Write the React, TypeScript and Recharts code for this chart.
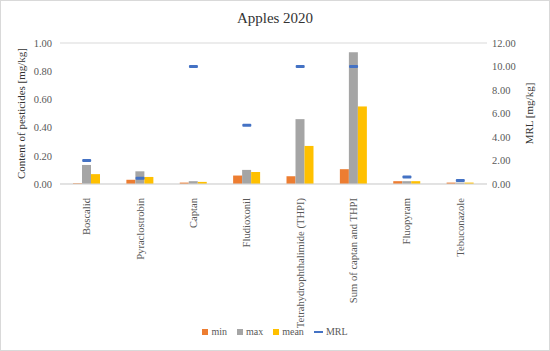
import { ComposedChart, Bar, Line, XAxis, YAxis, CartesianGrid } from "recharts";

const pesticides = [
  "Boscalid",
  "Pyraclostrobin",
  "Captan",
  "Fludioxonil",
  "Tetrahydrophthalimide (THPI)",
  "Sum of captan and THPI",
  "Fluopyram",
  "Tebuconazole",
];
const minValues = [0.005, 0.03, 0.01, 0.06, 0.055, 0.105, 0.02, 0.01];
const maxValues = [0.135, 0.09, 0.02, 0.1, 0.46, 0.935, 0.02, 0.01];
const meanValues = [0.07, 0.05, 0.015, 0.085, 0.27, 0.55, 0.02, 0.01];
const mrlValues = [2, 0.5, 10, 5, 10, 10, 0.6, 0.3];

const leftTicks = [0, 0.1, 0.2, 0.3, 0.4, 0.5, 0.6, 0.7, 0.8, 0.9, 1.0];
const rightTicks = [0, 2, 4, 6, 8, 10, 12];

const data = pesticides.map((name, i) => ({
  name,
  min: minValues[i],
  max: maxValues[i],
  mean: meanValues[i],
  MRL: mrlValues[i],
}));

const legendItems = [
  { label: "min", color: "#ED7D31", kind: "square" },
  { label: "max", color: "#A5A5A5", kind: "square" },
  { label: "mean", color: "#FFC000", kind: "square" },
  { label: "MRL", color: "#4472C4", kind: "line" },
];

const font = "'Liberation Serif', 'DejaVu Serif', serif";
const textColor = "#595959";

function CategoryTick(props: any) {
  const { x, y, payload } = props;
  return (
    <text
      x={x}
      y={y + 6}
      transform={`rotate(-90, ${x}, ${y + 6})`}
      textAnchor="end"
      dominantBaseline="central"
      fontSize={10.6}
      fontFamily={font}
      fill={textColor}
    >
      {payload.value}
    </text>
  );
}

function MrlDash(props: any) {
  const { cx, cy } = props;
  if (cx == null || cy == null) return null;
  return <rect x={cx - 4.5} y={cy - 1.5} width={9} height={3} rx={1} fill="#4472C4" />;
}

export default function App() {
  return (
    <div
      style={{
        position: "absolute",
        left: 0,
        top: 0,
        width: 548,
        height: 349,
        border: "1px solid #d9d9d9",
        background: "#fff",
        fontFamily: font,
      }}
    >
      <div
        style={{
          position: "absolute",
          top: 9,
          width: "100%",
          textAlign: "center",
          fontSize: 15,
          color: "#333",
        }}
      >
        Apples 2020
      </div>
      <ComposedChart
        width={548}
        height={349}
        data={data}
        margin={{ top: 42, right: 0, left: 0, bottom: 26 }}
        barGap={0}
      >
        <CartesianGrid vertical={false} stroke="#d9d9d9" />
        <XAxis
          dataKey="name"
          interval={0}
          tick={<CategoryTick />}
          tickLine={false}
          axisLine={{ stroke: "#d9d9d9" }}
          height={140}
        />
        <YAxis
          yAxisId="left"
          domain={[0, 1]}
          ticks={leftTicks}
          tickFormatter={(v: number) => v.toFixed(2)}
          axisLine={false}
          tickLine={false}
          width={59}
          tick={{ fontSize: 10.5, fontFamily: font, fill: textColor }}
          label={{
            value: "Content of pesticides [mg/kg]",
            angle: -90,
            position: "insideLeft",
            offset: 20,
            style: { textAnchor: "middle", fontSize: 11, fontFamily: font, fill: "#333" },
          }}
        />
        <YAxis
          yAxisId="right"
          orientation="right"
          domain={[0, 12]}
          ticks={rightTicks}
          tickFormatter={(v: number) => v.toFixed(2)}
          axisLine={false}
          tickLine={false}
          width={62}
          tick={{ fontSize: 10.5, fontFamily: font, fill: textColor, dx: -3 }}
          label={{
            value: "MRL [mg/kg]",
            angle: -90,
            position: "insideRight",
            offset: 20,
            style: { textAnchor: "middle", fontSize: 11, fontFamily: font, fill: "#333" },
          }}
        />
        <Bar yAxisId="left" dataKey="min" fill="#ED7D31" barSize={9} isAnimationActive={false} />
        <Bar yAxisId="left" dataKey="max" fill="#A5A5A5" barSize={9} isAnimationActive={false} />
        <Bar yAxisId="left" dataKey="mean" fill="#FFC000" barSize={9} isAnimationActive={false} />
        <Line
          yAxisId="right"
          dataKey="MRL"
          stroke="none"
          dot={<MrlDash />}
          activeDot={false}
          isAnimationActive={false}
        />
      </ComposedChart>
      <div
        style={{
          position: "absolute",
          top: 325,
          width: "100%",
          display: "flex",
          justifyContent: "center",
          gap: 10,
          fontSize: 10,
          color: textColor,
        }}
      >
        {legendItems.map((item) => (
          <span key={item.label} style={{ display: "flex", alignItems: "center", gap: 3 }}>
            <span
              style={{
                display: "inline-block",
                width: item.kind === "line" ? 9 : 6,
                height: item.kind === "line" ? 2 : 6,
                background: item.color,
              }}
            />
            {item.label}
          </span>
        ))}
      </div>
    </div>
  );
}
